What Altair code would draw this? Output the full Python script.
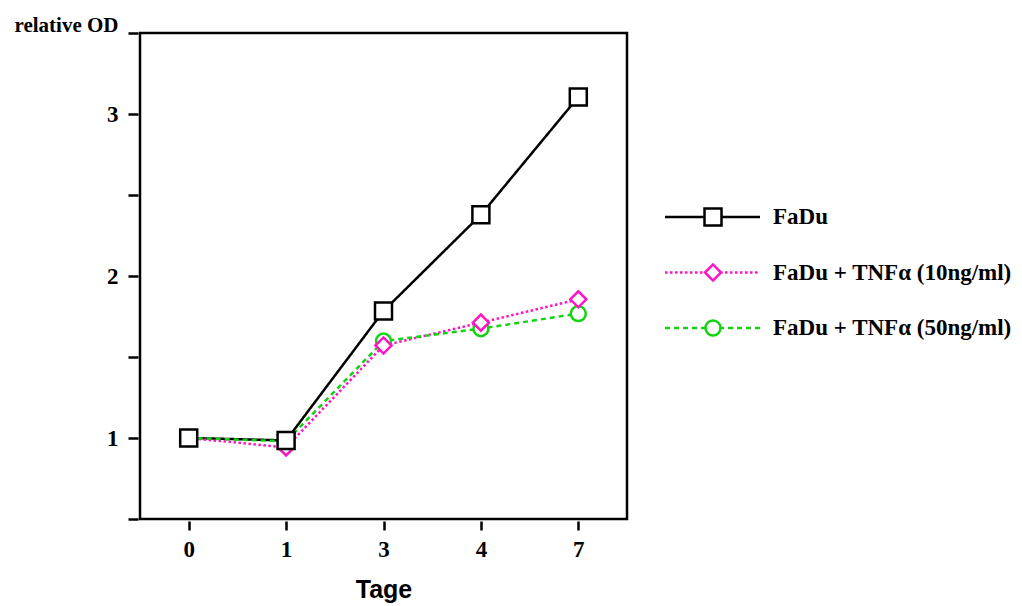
import altair as alt
import pandas as pd

days = ["0", "1", "3", "4", "7"]
series_names = ["FaDu", "FaDu + TNFα (10ng/ml)", "FaDu + TNFα (50ng/ml)"]
fadu = [1.0, 0.985, 1.784, 2.378, 3.105]
tnf10 = [1.0, 0.942, 1.571, 1.712, 1.856]
tnf50 = [1.0, 0.98, 1.598, 1.675, 1.768]
y_ticks = [0.5, 1, 1.5, 2, 2.5, 3, 3.5]

colors = ["#000000", "#ff14c4", "#14d214"]
dashes = [[1, 0], [2.5, 2.5], [5, 4]]
shapes = ["square", "diamond", "circle"]
sizes = [289, 225, 175]
draw_order = [3, 2, 1]

rows = []
for name, vals, o in zip(series_names, [fadu, tnf10, tnf50], draw_order):
    for d, v in zip(days, vals):
        rows.append({"day": d, "value": v, "series": name, "draw": o})
df = pd.DataFrame(rows)

serif = "Liberation Serif"

color_scale = alt.Scale(domain=series_names, range=colors)
dash_scale = alt.Scale(domain=series_names, range=dashes)
shape_scale = alt.Scale(domain=series_names, range=shapes)
size_scale = alt.Scale(domain=series_names, range=sizes)

x_enc = alt.X(
    "day:O",
    sort=days,
    scale=alt.Scale(type="point", padding=0.5),
    axis=alt.Axis(
        title="Tage", labelAngle=0, domain=False, offset=2, tickSize=9,
        tickWidth=2.5, tickColor="black", labelPadding=8,
        labelFont=serif, labelFontSize=23, labelFontWeight="bold", labelColor="black",
        titleFont="Liberation Sans", titleFontSize=25, titleFontWeight="bold",
        titleColor="black", titlePadding=16,
    ),
)
y_enc = alt.Y(
    "value:Q",
    scale=alt.Scale(domain=[0.5, 3.5], nice=False, zero=False),
    axis=alt.Axis(
        title="relative OD", values=y_ticks, domain=False, grid=False, offset=2,
        tickSize=10, tickWidth=2.5, tickColor="black", labelPadding=10,
        labelExpr="(datum.value == 1 || datum.value == 2 || datum.value == 3) ? '' + datum.value : ''",
        labelFont=serif, labelFontSize=23, labelFontWeight="bold", labelColor="black",
        titleAngle=0, titleAlign="right", titleBaseline="middle",
        titleX=-20, titleY=-8,
        titleFont=serif, titleFontSize=21, titleFontWeight="bold", titleColor="black",
    ),
)

lines = alt.Chart(df).mark_line(strokeWidth=2.5).encode(
    x=x_enc, y=y_enc,
    color=alt.Color("series:N", scale=color_scale, legend=None),
    strokeDash=alt.StrokeDash("series:N", scale=dash_scale, legend=None),
    detail="series:N",
    order=alt.Order("draw:Q"),
)
points = alt.Chart(df).mark_point(fill="white", fillOpacity=1, opacity=1, strokeWidth=2.5).encode(
    x=x_enc, y=y_enc,
    color=alt.Color("series:N", scale=color_scale, legend=None),
    shape=alt.Shape("series:N", scale=shape_scale, legend=None),
    size=alt.Size("series:N", scale=size_scale, legend=None),
    order=alt.Order("draw:Q"),
)
main = alt.layer(lines, points).properties(
    width=487, height=486,
    view=alt.ViewBackground(stroke="black", strokeWidth=2.5),
)

leg_df = pd.DataFrame({"series": series_names})
leg_y = alt.Y("series:N", sort=series_names,
              scale=alt.Scale(type="point", range=[184, 295], padding=0), axis=None)
leg_lines = alt.Chart(leg_df).mark_rule(strokeWidth=2.5).encode(
    x=alt.value(0), x2=alt.value(95), y=leg_y,
    color=alt.Color("series:N", scale=color_scale, legend=None),
    strokeDash=alt.StrokeDash("series:N", scale=dash_scale, legend=None),
)
leg_points = alt.Chart(leg_df).mark_point(fill="white", fillOpacity=1, opacity=1, strokeWidth=2.5).encode(
    x=alt.value(48), y=leg_y,
    color=alt.Color("series:N", scale=color_scale, legend=None),
    shape=alt.Shape("series:N", scale=shape_scale, legend=None),
    size=alt.Size("series:N", scale=size_scale, legend=None),
)
leg_text = alt.Chart(leg_df).mark_text(
    align="left", baseline="middle", font=serif, fontSize=23, fontWeight="bold", color="black"
).encode(x=alt.value(108), y=leg_y, text="series:N")
legend = alt.layer(leg_lines, leg_points, leg_text).properties(
    width=200, height=486, view=alt.ViewBackground(strokeWidth=0, stroke=None)
)

chart = alt.hconcat(main, legend, spacing=38, bounds="flush").resolve_scale(
    y="independent", x="independent"
).properties(
    padding={"left": 4, "top": 4, "right": 0, "bottom": 0}
).configure_view(stroke=None).configure(background="white")

chart.save("out.html", embed_options={"renderer": "svg", "actions": False})
